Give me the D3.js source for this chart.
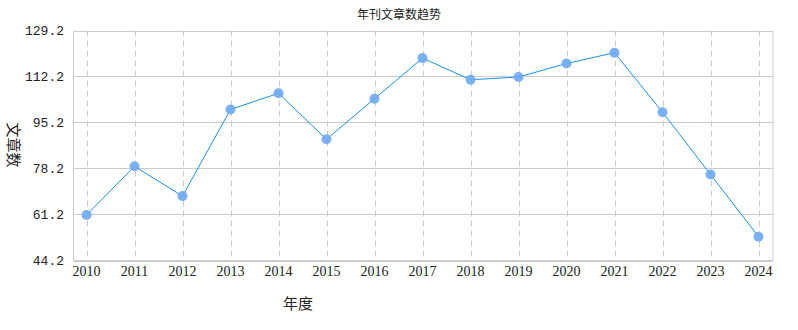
<!DOCTYPE html>
<html>
<head>
<meta charset="utf-8">
<script src="https://cdn.jsdelivr.net/npm/d3@7"></script>
<style>
  body { margin: 0; background: #fff; }
  svg { display: block; }
</style>
</head>
<body>
<div id="chart"></div>
<script>
// 年刊文章数
const years = ["2010", "2011", "2012", "2013", "2014", "2015", "2016", "2017",
               "2018", "2019", "2020", "2021", "2022", "2023", "2024"];
const counts = [61, 79, 68, 100, 106, 89, 104, 119, 111, 112, 117, 121, 99, 76, 53];
const yTicks = [44.2, 61.2, 78.2, 95.2, 112.2, 129.2];

const width = 798, height = 330;
const plot = { left: 73.5, right: 773, top: 30.5, bottom: 260.5 };

const svg = d3.select("#chart")
  .append("svg")
  .attr("width", width)
  .attr("height", height);

const x = d3.scalePoint()
  .domain(years)
  .range([86.5, 758.5]);

const y = d3.scaleLinear()
  .domain([yTicks[0], yTicks[yTicks.length - 1]])
  .range([plot.bottom, plot.top]);

// horizontal grid
svg.append("g")
  .selectAll("line")
  .data(yTicks)
  .join("line")
  .attr("x1", plot.left).attr("x2", plot.right)
  .attr("y1", d => Math.round(y(d)) + 0.5).attr("y2", d => Math.round(y(d)) + 0.5)
  .attr("stroke", "#cccccc");

// vertical dashed grid
svg.append("g")
  .selectAll("line")
  .data(years)
  .join("line")
  .attr("x1", d => Math.round(x(d)) + 0.5).attr("x2", d => Math.round(x(d)) + 0.5)
  .attr("y1", plot.top).attr("y2", plot.bottom)
  .attr("stroke", "#cccccc")
  .attr("stroke-dasharray", "6,4");

// frame: left, right, bottom
svg.append("path")
  .attr("d", `M${plot.left},${plot.top}V${plot.bottom}H${plot.right}V${plot.top}`)
  .attr("fill", "none")
  .attr("stroke", "#cccccc");

// y tick labels
svg.append("g")
  .selectAll("text")
  .data(yTicks)
  .join("text")
  .attr("x", 64)
  .attr("y", d => y(d))
  .attr("dy", "0.35em")
  .attr("text-anchor", "end")
  .attr("font-family", "Liberation Mono, monospace")
  .attr("font-size", "13px")
  .attr("fill", "#222")
  .text(d => d.toFixed(1));

// x tick labels
svg.append("g")
  .selectAll("text")
  .data(years)
  .join("text")
  .attr("x", d => x(d))
  .attr("y", 276)
  .attr("text-anchor", "middle")
  .attr("font-family", "Liberation Serif, serif")
  .attr("font-size", "14px")
  .attr("fill", "#222")
  .text(d => d);

// line
const line = d3.line()
  .x((d, i) => x(years[i]))
  .y(d => y(d));

svg.append("path")
  .datum(counts)
  .attr("d", line)
  .attr("fill", "none")
  .attr("stroke", "#1591f0")
  .attr("stroke-width", 1);

// markers
svg.append("g")
  .selectAll("circle")
  .data(counts)
  .join("circle")
  .attr("cx", (d, i) => x(years[i]))
  .attr("cy", d => y(d))
  .attr("r", 5)
  .attr("fill", "#6eaaf4")
  .attr("fill-opacity", 0.9);

// title
svg.append("text")
  .attr("x", 399)
  .attr("y", 19)
  .attr("text-anchor", "middle")
  .attr("font-family", "Noto Sans CJK SC, sans-serif")
  .attr("font-size", "12px")
  .attr("fill", "#222")
  .text("年刊文章数趋势");

// axis titles
svg.append("text")
  .attr("x", 298)
  .attr("y", 309)
  .attr("text-anchor", "middle")
  .attr("font-family", "Noto Sans CJK SC, sans-serif")
  .attr("font-size", "15px")
  .attr("fill", "#222")
  .text("年度");

svg.append("text")
  .attr("transform", "translate(8,145) rotate(90)")
  .attr("text-anchor", "middle")
  .attr("font-family", "Noto Sans CJK SC, sans-serif")
  .attr("font-size", "15px")
  .attr("fill", "#222")
  .text("文章数");
</script>
</body>
</html>
